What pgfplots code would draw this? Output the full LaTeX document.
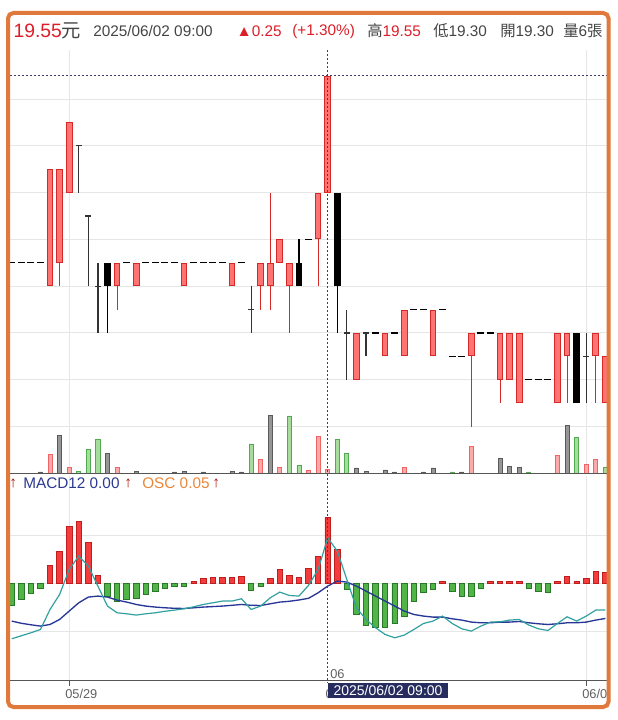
\documentclass[border=0pt]{standalone}
\usepackage{pgfplots}
\pgfplotsset{compat=1.18}
\usepackage{pgfplotstable}
\usepackage{fontspec}
\setmainfont{Liberation Sans}
\newfontfamily\cjk{Noto Sans CJK TC}

\definecolor{redline}{HTML}{D72828}
\definecolor{redfill}{HTML}{FF7373}
\definecolor{vpinkfill}{HTML}{FFAAAA}
\definecolor{vpinkline}{HTML}{F06464}
\definecolor{vgreenfill}{HTML}{A6DC9C}
\definecolor{vgreenline}{HTML}{50AA50}
\definecolor{vgrayfill}{HTML}{969696}
\definecolor{vgrayline}{HTML}{5A5A5A}
\definecolor{oscredfill}{HTML}{F53C3C}
\definecolor{oscredline}{HTML}{BE1E1E}
\definecolor{oscgreenfill}{HTML}{50B446}
\definecolor{oscgreenline}{HTML}{287828}
\definecolor{difc}{HTML}{32A0A0}
\definecolor{macdc}{HTML}{283796}
\definecolor{crossc}{HTML}{3C3C6E}
\definecolor{gridc}{HTML}{E6E6E6}
\definecolor{axisc}{HTML}{555555}
\definecolor{txtred}{HTML}{DC1E28}
\definecolor{txtgray}{HTML}{444444}
\definecolor{bordc}{HTML}{E07A3C}
\definecolor{navyc}{HTML}{262C5E}
\definecolor{legnavy}{HTML}{2B3990}
\definecolor{legorange}{HTML}{E8873A}
\definecolor{legarrow}{HTML}{B01010}

% up (red) candles
\pgfplotstableread{
i o h l c
4 19.10 19.35 19.10 19.35
5 19.15 19.35 19.10 19.35
6 19.30 19.45 19.30 19.45
11 19.10 19.15 19.05 19.15
13 19.10 19.15 19.10 19.15
18 19.10 19.15 19.10 19.15
23 19.10 19.15 19.10 19.15
26 19.10 19.15 19.05 19.15
27 19.10 19.30 19.05 19.15
28 19.15 19.20 19.15 19.20
29 19.10 19.15 19.00 19.15
32 19.20 19.30 19.10 19.30
33 19.30 19.55 19.30 19.55
36 18.90 19.00 18.90 19.00
39 18.95 19.00 18.95 19.00
41 18.95 19.05 18.95 19.05
44 18.95 19.05 18.95 19.05
48 18.95 19.00 18.80 19.00
51 18.90 19.00 18.85 19.00
52 18.90 19.00 18.90 19.00
53 18.85 19.00 18.85 19.00
57 18.85 19.00 18.85 19.00
58 18.95 19.00 18.85 19.00
61 18.95 19.00 18.85 19.00
62 18.85 18.95 18.85 18.95
}\upT
% down (black) candles
\pgfplotstableread{
i o h l c
10 19.15 19.15 19.00 19.10
30 19.15 19.20 19.10 19.10
34 19.30 19.30 19.00 19.10
59 19.00 19.00 18.85 18.85
}\downT
% doji (open = close, with range)
\pgfplotstableread{
i c h l
7 19.40 19.40 19.30
8 19.25 19.25 19.10
9 19.10 19.15 19.00
25 19.05 19.10 19.00
35 19.00 19.05 18.90
37 19.00 19.00 18.95
60 18.95 19.00 18.85
}\dojiT
% flat (no trade range)
\pgfplotstableread{
i c
0 19.15
1 19.15
2 19.15
3 19.15
12 19.15
14 19.15
15 19.15
16 19.15
17 19.15
19 19.15
20 19.15
21 19.15
22 19.15
24 19.15
31 19.20
38 19.00
40 19.00
42 19.05
43 19.05
45 19.05
46 18.95
47 18.95
49 19.00
50 19.00
54 18.90
55 18.90
56 18.90
}\flatT
% volumes
\pgfplotstableread{
i v
4 28
6 9
11 9
26 21
28 9
31 5
32 55
33 6
41 9
48 40
57 27
60 13
61 21
}\volR
\pgfplotstableread{
i v
7 3
8 36
9 51
25 44
29 86
30 12
34 51
35 30
46 2
54 2
59 54
62 9
}\volG
\pgfplotstableread{
i v
3 2
5 57
10 30
13 3
17 2
18 3
20 2
23 3
24 2
27 87
36 8
37 3
39 5
40 2
43 2
44 8
47 2
51 22
52 10
53 9
58 72
}\volK
% OSC histogram
\pgfplotstableread{
i v
4 18.7
5 32.7
6 57
7 62.7
8 41
9 8.3
19 2
20 5.3
21 6
22 6
23 6
24 7
27 5.7
28 14.3
29 8.3
30 6.3
31 15.7
32 27.7
33 66
34 34.3
45 2
50 2
51 2
52 2.7
53 2.7
57 2
58 7.7
59 2
60 5.7
61 12.7
62 11.7
}\oscP
\pgfplotstableread{
i v
0 -21.7
1 -15.7
2 -10
3 -5
10 -12.3
11 -17.3
12 -15.7
13 -15
14 -11
15 -7.7
16 -5
17 -2.3
18 -2.3
25 -6.3
26 -3
35 -5.7
36 -30.7
37 -41.7
38 -44
39 -44
40 -39.7
41 -32.3
42 -17.3
43 -8.3
44 -5.7
46 -7.7
47 -13
48 -13
49 -5
54 -5
55 -7.7
56 -9
}\oscN
% DIF and MACD lines
\pgfplotstableread{
i dif macd
0 -55 -37.3
1 -52 -39.5
2 -49 -41
3 -45.7 -42.3
4 -25.7 -40.7
5 -10.7 -35.7
6 14.3 -27.3
7 27.7 -19
8 17.7 -13.3
9 -2.3 -12.3
10 -22.3 -13.3
11 -29 -16.3
12 -30 -18.3
13 -31.3 -20.7
14 -30 -22.3
15 -29 -23.3
16 -27.5 -24
17 -26.3 -24.5
18 -25 -24.7
19 -23 -24
20 -20.7 -23.3
21 -19 -22.8
22 -17.3 -22.3
23 -17.3 -21.5
24 -15 -20.7
25 -25.7 -21.5
26 -22.3 -21.7
27 -14 -20
28 -8.3 -18.3
29 -11.7 -17.5
30 -12.3 -16.2
31 -1.5 -14.5
32 14.3 -9
33 46 -2.3
34 32.7 2.7
35 4.3 1.7
36 -24 -2.3
37 -35.7 -7.3
38 -44 -12.3
39 -50.7 -17.3
40 -54 -22.3
41 -51.3 -27.3
42 -45.7 -30.7
43 -39.7 -32.3
44 -37.3 -33.3
45 -32.3 -33.3
46 -39.7 -35
47 -45 -36.3
48 -47.3 -38.3
49 -42.3 -39
50 -38.3 -39
51 -38 -38.3
52 -36.3 -38.3
53 -35.7 -37.7
54 -41.3 -39
55 -45 -40
56 -46.7 -40.7
57 -39.7 -40
58 -33 -39
59 -37.3 -39
60 -32.3 -38.3
61 -26.3 -36.3
62 -26.3 -34.7
}\linesT

\begin{document}
\begin{tikzpicture}
\path[use as bounding box] (0pt,0pt) rectangle (462.75pt,-540pt);

% ---------- price panel ----------
\begin{axis}[
  at={(7.5pt,-354.98pt)}, anchor=south west,
  scale only axis, width=447.75pt, height=317.5pt,
  xmin=-0.18, xmax=62.17, ymin=18.70, ymax=19.605,
  xtick={6,60}, ytick={18.8,18.9,19.0,19.1,19.2,19.3,19.4,19.5},
  xticklabels={}, yticklabels={},
  grid=major, major grid style={draw=gridc, line width=0.75pt},
  axis line style={draw=none}, major tick length=0pt,
]
% red candles
\addplot[draw=redline, line width=0.75pt, quiver={u=0, v=\thisrow{h}-\thisrow{l}}] table[x=i, y=l] {\upT};
\addplot[draw=redline, line width=5pt, quiver={u=0, v=\thisrow{c}-\thisrow{o}}] table[x=i, y=o] {\upT};
\addplot[draw=redfill, line width=3.5pt, quiver={u=0, v=\thisrow{c}-\thisrow{o}-0.0043}] table[x=i, y expr=\thisrow{o}+0.00214] {\upT};
% black candles
\addplot[draw=black, line width=0.9pt, quiver={u=0, v=\thisrow{h}-\thisrow{l}}] table[x=i, y=l] {\downT};
\addplot[draw=black, line width=5pt, quiver={u=0, v=\thisrow{o}-\thisrow{c}}] table[x=i, y=c] {\downT};
% doji
\addplot[draw=black!80, line width=0.9pt, quiver={u=0, v=\thisrow{h}-\thisrow{l}}] table[x=i, y=l] {\dojiT};
\addplot[draw=black!80, line width=0.9pt, quiver={u=0.6, v=0}] table[x expr=\thisrow{i}-0.3, y=c] {\dojiT};
% flat
\addplot[draw=black, line width=1pt, quiver={u=0.72, v=0}] table[x expr=\thisrow{i}-0.36, y=c] {\flatT};
% crosshair horizontal
\draw[crossc, line width=0.75pt, dash pattern=on 1.5pt off 1.5pt] (axis cs:-0.18,19.55) -- (axis cs:62.17,19.55);
\end{axis}

% ---------- volume overlay ----------
\begin{axis}[
  at={(7.5pt,-354.98pt)}, anchor=south west,
  scale only axis, width=447.75pt, height=317.5pt,
  xmin=-0.18, xmax=62.17, ymin=0, ymax=635,
  hide axis,
]
\addplot[ybar, bar width=3pt, bar shift=0pt, draw=vpinkline, fill=vpinkfill, line width=0.6pt] table[x=i, y=v] {\volR};
\addplot[ybar, bar width=3pt, bar shift=0pt, draw=vgreenline, fill=vgreenfill, line width=0.6pt] table[x=i, y=v] {\volG};
\addplot[ybar, bar width=3pt, bar shift=0pt, draw=vgrayline, fill=vgrayfill, line width=0.6pt] table[x=i, y=v] {\volK};
\end{axis}

% ---------- MACD panel ----------
\begin{axis}[
  at={(7.5pt,-510.5pt)}, anchor=south west,
  scale only axis, width=447.75pt, height=153.5pt,
  xmin=-0.18, xmax=62.17, ymin=-96.9, ymax=107.8,
  xtick={6,60}, ytick={-48,0,48},
  xticklabels={}, yticklabels={},
  grid=major, major grid style={draw=gridc, line width=0.75pt},
  axis line style={draw=none}, major tick length=0pt,
]
\addplot[ybar, bar width=4.1pt, bar shift=0pt, draw=oscredline, fill=oscredfill, line width=0.6pt] table[x=i, y=v] {\oscP};
\addplot[ybar, bar width=4.1pt, bar shift=0pt, draw=oscgreenline, fill=oscgreenfill, line width=0.6pt] table[x=i, y=v] {\oscN};
\addplot[draw=macdc, line width=1pt, mark=none] table[x=i, y=macd] {\linesT};
\addplot[draw=difc, line width=0.9pt, mark=none] table[x=i, y=dif] {\linesT};
\end{axis}

% baselines
\draw[axisc, line width=0.75pt] (7.5pt,-354.98pt) -- (455.25pt,-354.98pt);
\draw[axisc, line width=0.75pt] (7.5pt,-510.5pt) -- (455.25pt,-510.5pt);
\draw[axisc, line width=0.75pt] (51.75pt,-510.5pt) -- (51.75pt,-514.5pt);
\draw[axisc, line width=0.75pt] (440.2pt,-510.5pt) -- (440.2pt,-514.5pt);

% crosshair vertical
\draw[crossc, line width=0.75pt, dash pattern=on 1.5pt off 1.5pt] (245.8pt,-37.5pt) -- (245.8pt,-512.5pt);

% date labels
\begin{scope}
\clip (0pt,0pt) rectangle (455pt,-540pt);
\node[anchor=west, inner sep=0pt, text=txtgray!85, font=\fontsize{9.6pt}{11pt}\selectfont] at (48.75pt,-520.5pt) {05/29};
\node[anchor=west, inner sep=0pt, text=txtgray!85, font=\fontsize{9.6pt}{11pt}\selectfont] at (436.5pt,-520.5pt) {06/02};
\node[anchor=west, inner sep=0pt, text=txtgray!85, font=\fontsize{9.6pt}{11pt}\selectfont] at (244pt,-520.5pt) {06/02};
\end{scope}
\node[anchor=west, inner sep=0pt, text=txtgray!85, font=\fontsize{9.6pt}{11pt}\selectfont] at (247.5pt,-505.5pt) {06};
\fill[navyc] (246pt,-512.25pt) rectangle (336pt,-523.5pt);
\node[inner sep=0pt, text=white, font=\fontsize{10.5pt}{12pt}\selectfont] at (291pt,-518pt) {2025/06/02 09:00};

% header
\node[anchor=west, inner sep=0pt, text=txtred, font=\fontsize{14.5pt}{16pt}\selectfont] at (10pt,-22.8pt) {19.55{\color{txtgray}\cjk 元}};
\node[anchor=west, inner sep=0pt, text=txtgray, font=\fontsize{11.5pt}{13pt}\selectfont] at (69.75pt,-23.3pt) {2025/06/02 09:00};
\node[anchor=west, inner sep=0pt, text=txtred, font=\fontsize{11.5pt}{13pt}\selectfont] at (177.3pt,-23.3pt) {▲0.25};
\node[anchor=west, inner sep=0pt, text=txtred, font=\fontsize{11.5pt}{13pt}\selectfont] at (219pt,-23.3pt) {(+1.30\%)};
\node[anchor=west, inner sep=0pt, text=txtgray, font=\fontsize{11.5pt}{13pt}\selectfont] at (275.25pt,-23.3pt) {{\cjk 高}\textcolor{txtred}{19.55}};
\node[anchor=west, inner sep=0pt, text=txtgray, font=\fontsize{11.5pt}{13pt}\selectfont] at (324.75pt,-23.3pt) {{\cjk 低}19.30};
\node[anchor=west, inner sep=0pt, text=txtgray, font=\fontsize{11.5pt}{13pt}\selectfont] at (375pt,-23.3pt) {{\cjk 開}19.30};
\node[anchor=west, inner sep=0pt, text=txtgray, font=\fontsize{11.5pt}{13pt}\selectfont] at (422.25pt,-23.3pt) {{\cjk 量}6{\cjk 張}};

% MACD legend
\node[anchor=west, inner sep=0pt, font=\fontsize{11.5pt}{13pt}\selectfont] at (6.75pt,-362.5pt) {\textcolor{legarrow}{↑}};
\node[anchor=west, inner sep=0pt, text=legnavy, font=\fontsize{11.5pt}{13pt}\selectfont] at (17.25pt,-362.5pt) {MACD12 0.00};
\node[anchor=west, inner sep=0pt, text=legarrow, font=\fontsize{11.5pt}{13pt}\selectfont] at (93pt,-362.5pt) {↑};
\node[anchor=west, inner sep=0pt, text=legorange, font=\fontsize{11.5pt}{13pt}\selectfont] at (106.5pt,-362.5pt) {OSC 0.05};
\node[anchor=west, inner sep=0pt, text=legarrow, font=\fontsize{11.5pt}{13pt}\selectfont] at (159pt,-362.5pt) {↑};

% border
\draw[bordc, line width=3pt, rounded corners=4pt] (6pt,-9.75pt) rectangle (456.4pt,-530.25pt);
\end{tikzpicture}
\end{document}
